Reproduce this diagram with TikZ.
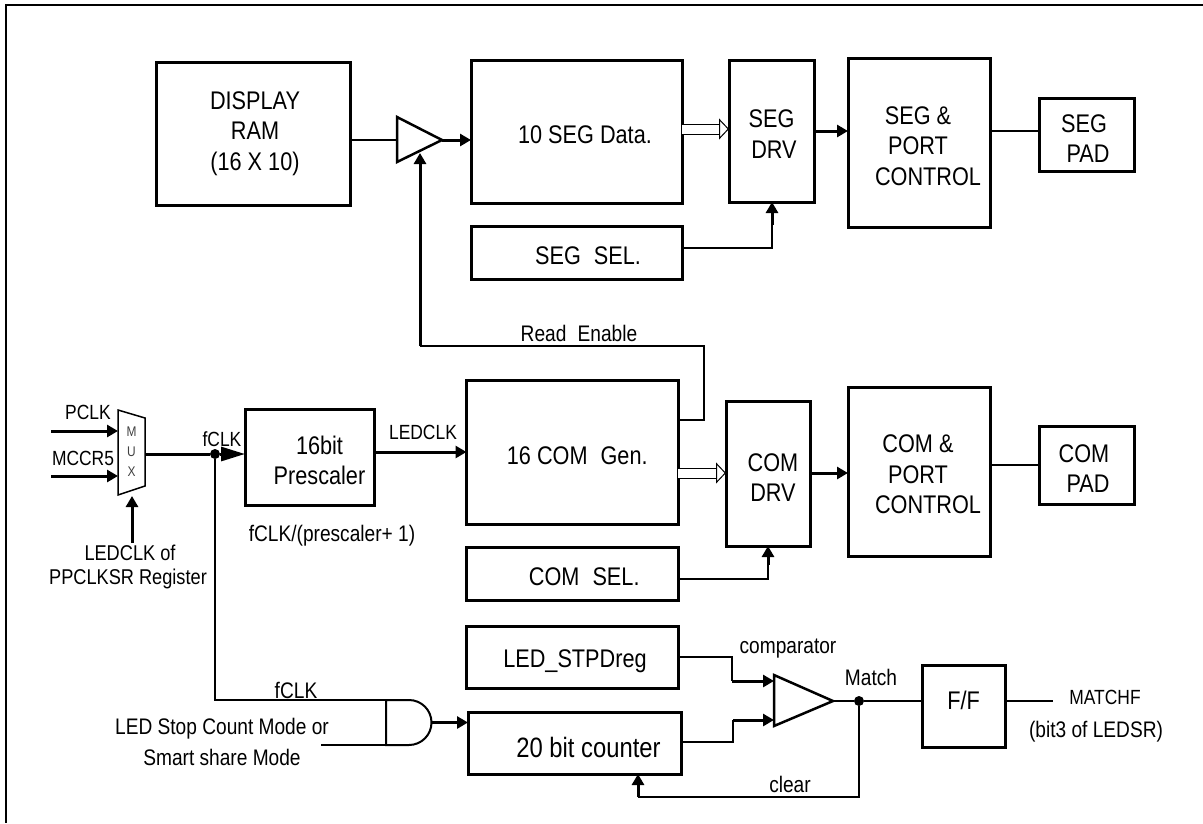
\documentclass[tikz,border=0pt]{standalone}
\usepackage{fontspec}
\setmainfont[FakeStretch=0.85]{Liberation Sans}
\usetikzlibrary{arrows.meta}
\begin{document}
\begin{tikzpicture}[
  x=1pt, y=-1pt,
  every node/.style={font=\fontsize{20.5}{30.5}\selectfont, inner sep=0pt, outer sep=0pt},
  note/.style={font=\fontsize{22.5}{30.5}\selectfont, align=center},
  box/.style={draw, line width=3pt, anchor=north west},
  tag/.style={align=center, font=\fontsize{25.5}{30.5}\selectfont},
  wire/.style={-, line width=2pt},
  bus/.style={-{Triangle[length=11pt, width=12pt]}, line width=3pt},
  hollow/.style={-{Triangle[length=10pt, width=21pt, fill=white, line width=1pt]},
    line width=1pt, double, double distance=9pt},
  amp/.style={draw, line width=2.5pt, line join=miter},
  dot/.style={circle, fill=black, minimum size=10pt},
]
  \useasboundingbox (0,0) rectangle (1203,823);
  % Frame
  \coordinate (frameA) at (1203,5);
  \coordinate (frameB) at (6,5);
  \coordinate (frameC) at (6,823);
  \draw[line width=2pt] (frameA) -- (frameB) -- (frameC);
  % Upper blocks
  \node[box, minimum width=194pt, minimum height=143pt, label={[tag, xshift=2pt]center:DISPLAY\\RAM\\(16 X 10)}] (dram) at (156,62) {};
  \node[box, minimum width=211pt, minimum height=143pt, label={[tag, xshift=8.5pt, yshift=-3.5pt]center:10 SEG Data.}] (segdata) at (471,60) {};
  \node[box, minimum width=211pt, minimum height=53pt, label={[tag, xshift=11.5pt, yshift=-3pt]center:SEG\hspace{7pt} SEL.}] (segsel) at (471,226.5) {};
  \node[box, minimum width=85pt, minimum height=142pt, label={[tag, yshift=-3pt]center:SEG\\\hspace*{5pt}DRV}] (segdrv) at (729,60) {};
  \node[box, minimum width=142pt, minimum height=169pt, label={[tag, xshift=-1pt, yshift=-3.5pt]center:SEG \&\\PORT\\\hspace*{20pt}CONTROL}] (segctl) at (848,58) {};
  \node[box, minimum width=95pt, minimum height=73pt, label={[tag, xshift=-2.5pt, yshift=-4pt]center:SEG\\\hspace*{8pt}PAD}] (segpad) at (1039,98) {};
  % Lower blocks
  \node[box, minimum width=129pt, minimum height=96pt, label={[tag, xshift=10pt, yshift=-3.5pt]center:16bit\\Prescaler}] (presc) at (245,409) {};
  \node[box, minimum width=211.5pt, minimum height=144pt, label={[tag, xshift=5pt, yshift=-4pt]center:16 COM\hspace{7pt} Gen.}] (comgen) at (466.5,380) {};
  \node[box, minimum width=211.5pt, minimum height=52.5pt, label={[tag, xshift=12pt, yshift=-3pt]center:COM\hspace{7pt} SEL.}] (comsel) at (466.5,547.5) {};
  \node[box, minimum width=84pt, minimum height=145pt, label={[tag, xshift=5pt, yshift=-4pt]center:COM\\DRV}] (comdrv) at (726,401) {};
  \node[box, minimum width=142pt, minimum height=169pt, label={[tag, xshift=-1pt, yshift=-3pt]center:COM \&\\PORT\\\hspace*{20pt}CONTROL}] (comctl) at (848,387) {};
  \node[box, minimum width=95pt, minimum height=78pt, label={[tag, xshift=-2.5pt, yshift=-3.5pt]center:COM\\\hspace*{8pt}PAD}] (compad) at (1039,426) {};
  \node[box, minimum width=212pt, minimum height=62pt, label={[tag, xshift=3pt, yshift=-4pt]center:LED\_STPDreg}] (stpd) at (466,626) {};
  \node[box, minimum width=213pt, minimum height=62pt, label={[tag, font=\fontsize{28}{30.5}\selectfont, xshift=14pt, yshift=-4pt]center:20 bit counter}] (cnt) at (468,712) {};
  \node[box, minimum width=83pt, minimum height=82pt, label={[tag, yshift=6pt]center:F/F}] (ff) at (922,665) {};
  % Buffer, comparator, mux and gate
  \coordinate (bufT) at (397,117);
  \coordinate (bufB) at (397,162);
  \coordinate (bufO) at (442,140);
  \coordinate (bufI) at (397,140);
  \coordinate (bufE) at (420,153);
  \draw[amp] (bufT) -- (bufO) -- (bufB) -- cycle;
  \coordinate (cmpT) at (774,675);
  \coordinate (cmpB) at (774,726);
  \coordinate (cmpO) at (833,701);
  \coordinate (cmpA) at (774,681);
  \coordinate (cmpC) at (774,720);
  \draw[amp] (cmpT) -- (cmpO) -- (cmpB) -- cycle;
  \coordinate (muxA) at (118,410);
  \coordinate (muxB) at (145,418);
  \coordinate (muxC) at (145,486);
  \coordinate (muxD) at (118,495);
  \draw[line width=1.5pt] (muxA) -- (muxB) -- (muxC) -- (muxD) -- cycle;
  \node[align=center, font=\fontsize{14}{20}\selectfont, text=black!75] (muxtxt) at (131.5,452) {M\\U\\X};
  \coordinate (andA) at (386,700);
  \coordinate (andB) at (386,745);
  \coordinate (andO) at (431,722.5);
  \draw[line width=2pt] (andA) -- (409,700) arc (90:-90:22.5pt) -- (andB) -- cycle;
  % Junctions
  \node[dot] (fclkdot) at (215,454) {};
  \node[dot] (matchdot) at (859,701) {};
  % Free ends
  \coordinate (pclkin) at (51,431);
  \coordinate (mccrin) at (51,476);
  \coordinate (muxP) at (118,431);
  \coordinate (muxM) at (118,476);
  \coordinate (muxO) at (145,454);
  \coordinate (muxS) at (132,496);
  \coordinate (ledclkin) at (132,543);
  \coordinate (stopin) at (321,745);
  \coordinate (matchout) at (1053,701);
  \coordinate (rdA) at (704,346);
  \coordinate (rdB) at (420,346);
  \coordinate (cmpWA) at (732,681);
  \coordinate (cmpWC) at (733,720);
  \coordinate (clrA) at (638,797);
  % Edges
  \draw[bus] (pclkin) -- (muxP);
  \draw[bus] (mccrin) -- (muxM);
  \draw[bus] (ledclkin) -- (muxS);
  \draw[wire, line width=3pt] (muxO) -- (fclkdot);
  \draw[-{Triangle[length=24pt, width=14pt]}, line width=3pt] (fclkdot) -- (presc.west |- fclkdot);
  \draw[wire] (fclkdot) |- (andA);
  \draw[wire] (stopin) -- (andB);
  \draw[bus] (andO) -- (cnt.west |- andO);
  \draw[bus] (presc.east |- 0,452) -- (comgen.west |- 0,452);
  \draw[wire] (dram.east |- bufI) -- (bufI);
  \draw[bus] (bufO) -- (segdata.west |- bufO);
  \draw[hollow] (segdata.east |- 0,129) -- (segdrv.west |- 0,129);
  \draw[wire] (segsel.east |- 0,248) -| (772,225);
  \draw[bus] (772,225) -- (segdrv.south -| 772,0);
  \draw[bus] (segdrv.east |- 0,131) -- (segctl.west |- 0,131);
  \draw[wire] (segctl.east |- 0,131) -- (segpad.west |- 0,131);
  \draw[wire] (comgen.east |- 0,419.5) -| (rdA) -- (rdB);
  \draw[bus] (rdB) -- (bufE);
  \draw[hollow] (comgen.east |- 0,473) -- (comdrv.west |- 0,473);
  \draw[wire] (comsel.east |- 0,579) -| (768,565);
  \draw[bus] (768,565) -- (comdrv.south -| 768,0);
  \draw[bus] (comdrv.east |- 0,473) -- (comctl.west |- 0,473);
  \draw[wire] (comctl.east |- compad.west) -- (compad.west);
  \draw[wire] (stpd.east |- 0,657) -| (cmpWA);
  \draw[bus] (cmpWA) -- (cmpA);
  \draw[wire] (cnt.east |- 0,742) -| (cmpWC);
  \draw[bus] (cmpWC) -- (cmpC);
  \draw[wire] (cmpO) -- (matchdot);
  \draw[wire] (matchdot) -- (ff.west |- matchdot);
  \draw[wire] (ff.east |- matchout) -- (matchout);
  \draw[wire] (matchdot) |- (clrA);
  \draw[bus] (clrA) -- (cnt.south -| clrA);
  % Labels
  \node (pclk) at (88,412) {PCLK};
  \node (mccr) at (83,458) {MCCR5};
  \node (fclka) at (222,439) {fCLK};
  \node[note, font=\fontsize{21.4}{24}\selectfont] (ledsrc) at (128,567) {\hspace*{4pt}LEDCLK of\\PPCLKSR Register};
  \node (ledclk) at (423,432) {LEDCLK};
  \node[note] (prediv) at (332,536) {fCLK/(prescaler+ 1)};
  \node[note] (rden) at (579,333) {Read\hspace{6pt} Enable};
  \node[note] (fclkb) at (296,690) {fCLK};
  \node[note] (stop) at (222,742) {LED Stop Count Mode or\\Smart share Mode};
  \node[note] (comp) at (788,649) {comparator};
  \node[note] (match) at (871,677) {Match};
  \node[note] (clr) at (790,784) {clear};
  \node (mf) at (1105,697) {MATCHF};
  \node[note] (bit) at (1096,732) {(bit3 of LEDSR)};
\end{tikzpicture}
\end{document}
